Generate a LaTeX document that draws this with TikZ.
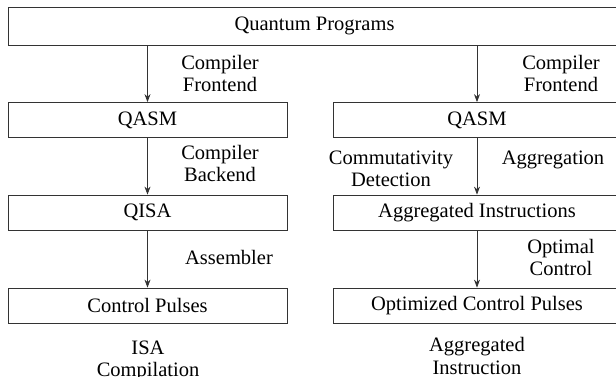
\documentclass[tikz,border=0pt]{standalone}
\usepackage{fontspec}
\setmainfont{Liberation Serif}
\usetikzlibrary{arrows.meta}

\begin{document}
\begin{tikzpicture}[x=1pt,y=-1pt,-{Stealth[length=8pt,width=6pt]},thick,
  stage/.style={draw=black!80,line width=0.8pt,rectangle,minimum height=35pt,inner sep=0pt,font=\fontsize{20.5}{22.5}\selectfont},
  left stage/.style={stage,minimum width=279pt},
  right stage/.style={stage,minimum width=288pt},
  caption/.style={align=center,font=\fontsize{20.5}{22.5}\selectfont}]
\tikzstyle{flow} = [draw=black!80,line width=0.8pt]

\path[use as bounding box,clip] (0,0) rectangle (616,377);

\node[stage,minimum width=613pt,minimum height=38pt] (prog) at (314.5,26) {Quantum Programs};

% ISA compilation
\node[left stage] (qasmL) at (147.5,120) {QASM};
\node[left stage] (qisa) at (147.5,212.5) {QISA};
\node[left stage] (pulses) at (147.5,305.5) {Control Pulses};

% aggregated instruction
\node[right stage] (qasmR) at (477,120) {QASM};
\node[right stage] (aggr) at (477,212.5) {Aggregated Instructions};
\node[right stage] (optpulses) at (477,305.5) {Optimized Control Pulses};

\draw[flow] (prog.south -| qasmL) -- (qasmL);
\draw[flow] (qasmL) -- (qisa);
\draw[flow] (qisa) -- (pulses);
\draw[flow] (prog.south -| qasmR) -- (qasmR);
\draw[flow] (qasmR) -- (aggr);
\draw[flow] (aggr) -- (optpulses);

\node[caption] (feL) at (220,73.5) {Compiler\\Frontend};
\node[caption] (be) at (220,163.5) {Compiler\\Backend};
\node[caption] (asm) at (229,257) {Assembler};
\node[caption] (feR) at (561,73.5) {Compiler\\Frontend};
\node[caption] (comm) at (391,169) {Commutativity\\Detection};
\node[caption] (agg) at (553,160) {Aggregation};
\node[caption] (opt) at (561,257.5) {Optimal\\Control};

\node[caption] (isa) at (148,361) {ISA\\Compilation};
\node[caption] (aggins) at (477,356) {Aggregated\\Instruction};
\end{tikzpicture}
\end{document}
